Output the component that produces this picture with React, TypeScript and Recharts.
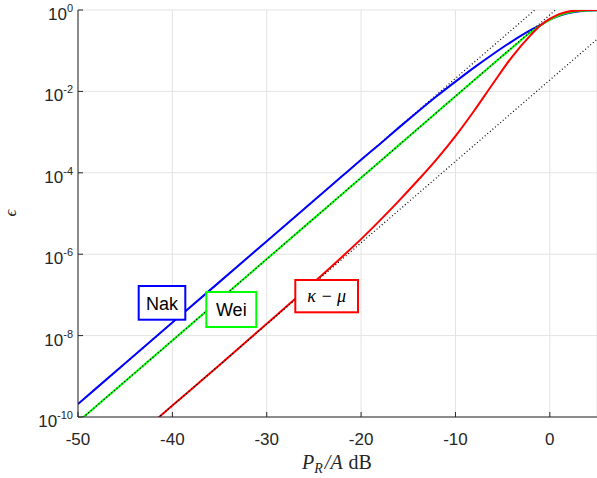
import React from 'react';
import { LineChart, Line, XAxis, YAxis, CartesianGrid } from 'recharts';

// P_R/A in dB
const xs = [-50, -45, -40, -35, -30, -25, -22, -20, -18, -16, -14, -12, -10, -8, -6, -4, -2, -1, 0, 1, 2, 3, 4, 5];

// outage probability
const nakEps = [
  2.089e-10, 2.089e-9, 2.089e-8, 2.089e-7, 2.089e-6, 2.089e-5, 8.318e-5, 2.089e-4,
  5.129e-4, 1.288e-3, 3.162e-3, 7.586e-3, 1.738e-2, 3.89e-2, 8.318e-2, 0.1698,
  0.3236, 0.4266, 0.5888, 0.7244, 0.8414, 0.9226, 0.966, 0.9863,
];
const weiEps = [
  7.59e-11, 7.59e-10, 7.59e-9, 7.59e-8, 7.59e-7, 7.59e-6, 3.02e-5, 7.59e-5,
  1.905e-4, 4.786e-4, 1.202e-3, 3.02e-3, 7.586e-3, 1.905e-2, 4.786e-2, 0.1175,
  0.2884, 0.4169, 0.5754, 0.7413, 0.871, 0.9441, 0.9772, 0.9908,
];
const kmEps = [
  1.905e-12, 1.905e-11, 1.905e-10, 1.905e-9, 1.95e-8, 2.042e-7, 8.71e-7, 2.344e-6,
  6.761e-6, 2.042e-5, 6.457e-5, 2.138e-4, 7.943e-4, 3.388e-3, 1.585e-2, 7.079e-2,
  0.2455, 0.4169, 0.6026, 0.7943, 0.9226, 0.9772, 0.9954, 1.0,
];

// high-SNR asymptotes (end points only, straight on the log axis)
const asymX = [-50, 5];
const nakAsymEps = [2.089e-10, 20.89];
const weiAsymEps = [7.59e-11, 7.586];
const kmAsymEps = [1.905e-12, 0.1905];

const xTicks = [-50, -40, -30, -20, -10, 0];
const yTicks = [1e-10, 1e-8, 1e-6, 1e-4, 1e-2, 1];

const data = xs.map((x, i) => ({ x, nak: nakEps[i], wei: weiEps[i], km: kmEps[i] }));
const asymData = asymX.map((x, i) => ({
  x,
  nakAsym: nakAsymEps[i],
  weiAsym: weiAsymEps[i],
  kmAsym: kmAsymEps[i],
}));

const axisColor = '#262626';
const sans = '"Liberation Sans", Arial, sans-serif';
const serif = '"Liberation Serif", "Times New Roman", serif';

const BottomTick = (props: any) => {
  const { x, y, payload } = props;
  return (
    <g>
      <line x1={x} y1={y} x2={x} y2={y - 5} stroke={axisColor} />
      <text x={x} y={y + 28} textAnchor="middle" fontSize={17} fontFamily={sans} fill={axisColor}>
        {String(payload.value)}
      </text>
    </g>
  );
};

const TopTick = (props: any) => {
  const { x, y } = props;
  return <line x1={x} y1={y} x2={x} y2={y + 5} stroke={axisColor} />;
};

const LeftTick = (props: any) => {
  const { x, y, payload } = props;
  const e = Math.round(Math.log10(payload.value));
  return (
    <g>
      <line x1={x} y1={y} x2={x + 5} y2={y} stroke={axisColor} />
      <text x={x - 5} y={y + 10} textAnchor="end" fontSize={17} fontFamily={sans} fill={axisColor}>
        <tspan>10</tspan>
        <tspan dy={-8} fontSize={11}>{String(e)}</tspan>
      </text>
    </g>
  );
};

const RightTick = (props: any) => {
  const { x, y } = props;
  return <line x1={x} y1={y} x2={x - 5} y2={y} stroke={axisColor} />;
};

const dotted = { stroke: '#000', strokeWidth: 1.2, strokeDasharray: '1 2.4' };

const App = () => {
  return (
    <div style={{ position: 'absolute', left: 0, top: 0, width: 597, height: 478, background: '#fff' }}>
      <LineChart width={597} height={478} data={data} margin={{ top: 10, right: 0, bottom: 0, left: 0 }}>
        <CartesianGrid stroke="#e3e3e3" strokeWidth={1} />
        <XAxis
          dataKey="x"
          type="number"
          domain={[-50, 5]}
          ticks={xTicks}
          allowDataOverflow
          height={61}
          tickSize={0}
          tickMargin={0}
          tick={<BottomTick />}
          axisLine={{ stroke: axisColor }}
          tickLine={false}
        />
        <XAxis
          xAxisId="top"
          orientation="top"
          dataKey="x"
          type="number"
          domain={[-50, 5]}
          ticks={xTicks}
          allowDataOverflow
          height={0}
          tickSize={0}
          tickMargin={0}
          tick={<TopTick />}
          axisLine={{ stroke: axisColor }}
          tickLine={false}
        />
        <YAxis
          type="number"
          scale="log"
          domain={[1e-10, 1]}
          ticks={yTicks}
          allowDataOverflow
          width={78}
          tickSize={0}
          tickMargin={0}
          tick={<LeftTick />}
          axisLine={{ stroke: axisColor }}
          tickLine={false}
        />
        <YAxis
          yAxisId="right"
          orientation="right"
          type="number"
          scale="log"
          domain={[1e-10, 1]}
          ticks={yTicks}
          allowDataOverflow
          width={0}
          tickSize={0}
          tickMargin={0}
          tick={<RightTick />}
          axisLine={{ stroke: axisColor }}
          tickLine={false}
        />
        <Line data={asymData} dataKey="nakAsym" type="linear" {...dotted} dot={false} isAnimationActive={false} />
        <Line dataKey="nak" type="monotone" stroke="#0000ff" strokeWidth={2} dot={false} isAnimationActive={false} />
        <Line dataKey="wei" type="monotone" stroke="#00ff00" strokeWidth={2} dot={false} isAnimationActive={false} />
        <Line data={asymData} dataKey="weiAsym" type="linear" {...dotted} dot={false} isAnimationActive={false} />
        <Line dataKey="km" type="monotone" stroke="#ff0000" strokeWidth={2} dot={false} isAnimationActive={false} />
        <Line data={asymData} dataKey="kmAsym" type="linear" {...dotted} dot={false} isAnimationActive={false} />
      </LineChart>

      {/* axis labels and text boxes */}
      <svg width={597} height={478} style={{ position: 'absolute', left: 0, top: 0, pointerEvents: 'none' }}>
        <text x={337} y={469} textAnchor="middle" fontSize={20} fontFamily={serif} fill={axisColor}>
          <tspan fontStyle="italic">P</tspan>
          <tspan fontStyle="italic" fontSize={14} dy={4}>R</tspan>
          <tspan fontStyle="italic" dy={-4} dx={2}>/A</tspan>
          <tspan dx={6}>dB</tspan>
        </text>
        <text
          transform="translate(16,213) rotate(-90)"
          textAnchor="middle"
          fontSize={17}
          fontFamily={serif}
          fontStyle="italic"
          fill={axisColor}
        >
          ϵ
        </text>

        <rect x={138.7} y={286} width={46.6} height={33.7} fill="#fff" stroke="#0000ff" strokeWidth={2} />
        <text x={162} y={309.5} textAnchor="middle" fontSize={18} fontFamily={sans} fill="#000">Nak</text>

        <rect x={206.3} y={292} width={50} height={35} fill="#fff" stroke="#00ff00" strokeWidth={2} />
        <text x={231.3} y={316} textAnchor="middle" fontSize={18} fontFamily={sans} fill="#000">Wei</text>

        <rect x={295.3} y={280} width={62.7} height={32.3} fill="#fff" stroke="#ff0000" strokeWidth={2} />
        <text x={326.7} y={302} textAnchor="middle" fontSize={18} fontFamily={serif} fontStyle="italic" fill="#000">
          κ − μ
        </text>
      </svg>
    </div>
  );
};

export default App;
